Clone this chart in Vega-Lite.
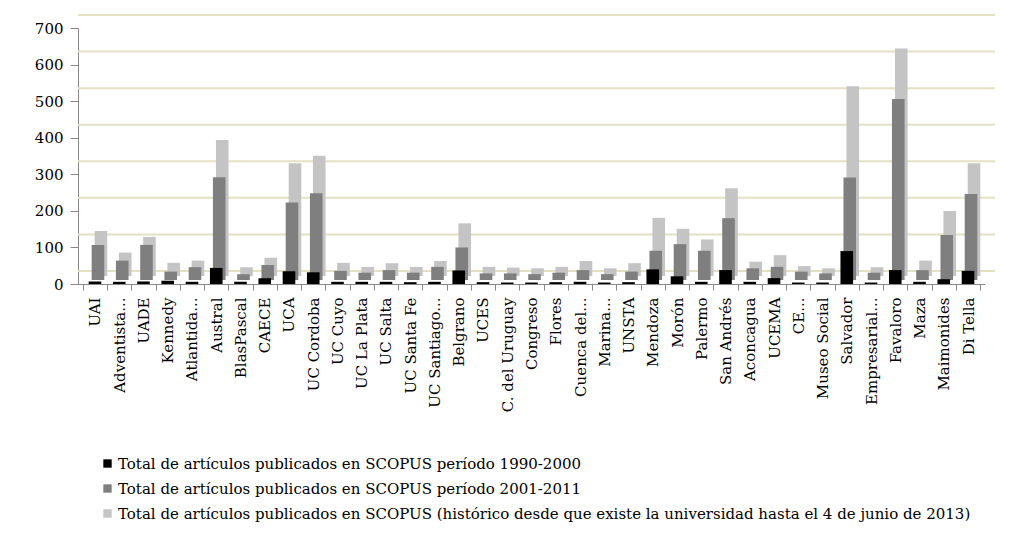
{
  "$schema": "https://vega.github.io/schema/vega-lite/v6.json",
  "width": 907,
  "height": 256,
  "autosize": {"type": "none"},
  "padding": {"left": 78, "top": 28, "right": 46, "bottom": 251},
  "background": "white",
  "config": {"view": {"stroke": null}, "font": "DejaVu Serif"},
  "datasets": {
    "grid": [{"g": 0}, {"g": 100}, {"g": 200}, {"g": 300}, {"g": 400}, {"g": 500}, {"g": 600}, {"g": 700}],
    "pubs": [
      {"u": "UAI", "s": "1990-2000", "v": 7}, {"u": "UAI", "s": "2001-2011", "v": 96}, {"u": "UAI", "s": "histórico", "v": 123},
      {"u": "Adventista...", "s": "1990-2000", "v": 6}, {"u": "Adventista...", "s": "2001-2011", "v": 53}, {"u": "Adventista...", "s": "histórico", "v": 64},
      {"u": "UADE", "s": "1990-2000", "v": 7}, {"u": "UADE", "s": "2001-2011", "v": 96}, {"u": "UADE", "s": "histórico", "v": 107},
      {"u": "Kennedy", "s": "1990-2000", "v": 9}, {"u": "Kennedy", "s": "2001-2011", "v": 23}, {"u": "Kennedy", "s": "histórico", "v": 36},
      {"u": "Atlantida...", "s": "1990-2000", "v": 6}, {"u": "Atlantida...", "s": "2001-2011", "v": 35}, {"u": "Atlantida...", "s": "histórico", "v": 42},
      {"u": "Austral", "s": "1990-2000", "v": 44}, {"u": "Austral", "s": "2001-2011", "v": 281}, {"u": "Austral", "s": "histórico", "v": 372},
      {"u": "BlasPascal", "s": "1990-2000", "v": 6}, {"u": "BlasPascal", "s": "2001-2011", "v": 16}, {"u": "BlasPascal", "s": "histórico", "v": 24},
      {"u": "CAECE", "s": "1990-2000", "v": 16}, {"u": "CAECE", "s": "2001-2011", "v": 41}, {"u": "CAECE", "s": "histórico", "v": 50},
      {"u": "UCA", "s": "1990-2000", "v": 35}, {"u": "UCA", "s": "2001-2011", "v": 212}, {"u": "UCA", "s": "histórico", "v": 308},
      {"u": "UC Cordoba", "s": "1990-2000", "v": 32}, {"u": "UC Cordoba", "s": "2001-2011", "v": 237}, {"u": "UC Cordoba", "s": "histórico", "v": 329},
      {"u": "UC Cuyo", "s": "1990-2000", "v": 6}, {"u": "UC Cuyo", "s": "2001-2011", "v": 25}, {"u": "UC Cuyo", "s": "histórico", "v": 36},
      {"u": "UC La Plata", "s": "1990-2000", "v": 6}, {"u": "UC La Plata", "s": "2001-2011", "v": 20}, {"u": "UC La Plata", "s": "histórico", "v": 25},
      {"u": "UC Salta", "s": "1990-2000", "v": 6}, {"u": "UC Salta", "s": "2001-2011", "v": 27}, {"u": "UC Salta", "s": "histórico", "v": 35},
      {"u": "UC Santa Fe", "s": "1990-2000", "v": 5}, {"u": "UC Santa Fe", "s": "2001-2011", "v": 20}, {"u": "UC Santa Fe", "s": "histórico", "v": 25},
      {"u": "UC Santiago...", "s": "1990-2000", "v": 6}, {"u": "UC Santiago...", "s": "2001-2011", "v": 36}, {"u": "UC Santiago...", "s": "histórico", "v": 41},
      {"u": "Belgrano", "s": "1990-2000", "v": 37}, {"u": "Belgrano", "s": "2001-2011", "v": 89}, {"u": "Belgrano", "s": "histórico", "v": 144},
      {"u": "UCES", "s": "1990-2000", "v": 5}, {"u": "UCES", "s": "2001-2011", "v": 18}, {"u": "UCES", "s": "histórico", "v": 25},
      {"u": "C. del Uruguay", "s": "1990-2000", "v": 4}, {"u": "C. del Uruguay", "s": "2001-2011", "v": 18}, {"u": "C. del Uruguay", "s": "histórico", "v": 23},
      {"u": "Congreso", "s": "1990-2000", "v": 4}, {"u": "Congreso", "s": "2001-2011", "v": 16}, {"u": "Congreso", "s": "histórico", "v": 21},
      {"u": "Flores", "s": "1990-2000", "v": 5}, {"u": "Flores", "s": "2001-2011", "v": 20}, {"u": "Flores", "s": "histórico", "v": 25},
      {"u": "Cuenca del...", "s": "1990-2000", "v": 6}, {"u": "Cuenca del...", "s": "2001-2011", "v": 27}, {"u": "Cuenca del...", "s": "histórico", "v": 41},
      {"u": "Marina...", "s": "1990-2000", "v": 4}, {"u": "Marina...", "s": "2001-2011", "v": 16}, {"u": "Marina...", "s": "histórico", "v": 21},
      {"u": "UNSTA", "s": "1990-2000", "v": 5}, {"u": "UNSTA", "s": "2001-2011", "v": 23}, {"u": "UNSTA", "s": "histórico", "v": 35},
      {"u": "Mendoza", "s": "1990-2000", "v": 40}, {"u": "Mendoza", "s": "2001-2011", "v": 80}, {"u": "Mendoza", "s": "histórico", "v": 159},
      {"u": "Morón", "s": "1990-2000", "v": 21}, {"u": "Morón", "s": "2001-2011", "v": 98}, {"u": "Morón", "s": "histórico", "v": 129},
      {"u": "Palermo", "s": "1990-2000", "v": 6}, {"u": "Palermo", "s": "2001-2011", "v": 80}, {"u": "Palermo", "s": "histórico", "v": 100},
      {"u": "San Andrés", "s": "1990-2000", "v": 38}, {"u": "San Andrés", "s": "2001-2011", "v": 169}, {"u": "San Andrés", "s": "histórico", "v": 240},
      {"u": "Aconcagua", "s": "1990-2000", "v": 6}, {"u": "Aconcagua", "s": "2001-2011", "v": 32}, {"u": "Aconcagua", "s": "histórico", "v": 39},
      {"u": "UCEMA", "s": "1990-2000", "v": 16}, {"u": "UCEMA", "s": "2001-2011", "v": 36}, {"u": "UCEMA", "s": "histórico", "v": 57},
      {"u": "CE...", "s": "1990-2000", "v": 4}, {"u": "CE...", "s": "2001-2011", "v": 23}, {"u": "CE...", "s": "histórico", "v": 27},
      {"u": "Museo Social", "s": "1990-2000", "v": 4}, {"u": "Museo Social", "s": "2001-2011", "v": 18}, {"u": "Museo Social", "s": "histórico", "v": 21},
      {"u": "Salvador", "s": "1990-2000", "v": 90}, {"u": "Salvador", "s": "2001-2011", "v": 280}, {"u": "Salvador", "s": "histórico", "v": 519},
      {"u": "Empresarial...", "s": "1990-2000", "v": 4}, {"u": "Empresarial...", "s": "2001-2011", "v": 20}, {"u": "Empresarial...", "s": "histórico", "v": 24},
      {"u": "Favaloro", "s": "1990-2000", "v": 38}, {"u": "Favaloro", "s": "2001-2011", "v": 495}, {"u": "Favaloro", "s": "histórico", "v": 622},
      {"u": "Maza", "s": "1990-2000", "v": 6}, {"u": "Maza", "s": "2001-2011", "v": 27}, {"u": "Maza", "s": "histórico", "v": 42},
      {"u": "Maimonides", "s": "1990-2000", "v": 13}, {"u": "Maimonides", "s": "2001-2011", "v": 123}, {"u": "Maimonides", "s": "histórico", "v": 178},
      {"u": "Di Tella", "s": "1990-2000", "v": 36}, {"u": "Di Tella", "s": "2001-2011", "v": 235}, {"u": "Di Tella", "s": "histórico", "v": 308}
    ]
  },
  "layer": [
    {
      "data": {"name": "grid"},
      "mark": {"type": "rule", "color": "#e4e0c4", "strokeWidth": 2, "yOffset": -13, "xOffset": 10, "x2Offset": 4},
      "encoding": {
        "y": {
          "field": "g", "type": "quantitative", "title": null,
          "scale": {"domain": [0, 700]},
          "axis": {"values": [0, 100, 200, 300, 400, 500, 600, 700], "grid": false, "tickSize": 8, "tickColor": "#888888", "domainColor": "#888888", "labelFontSize": 15, "labelPadding": 7, "labelColor": "#000000", "labelFont": "DejaVu Serif"}
        }
      }
    },
    {
      "data": {"name": "pubs"},
      "encoding": {
        "x": {
          "field": "u", "type": "nominal", "sort": null, "title": null,
          "scale": {"paddingInner": 0, "paddingOuter": 0.2},
          "axis": {"labelAngle": -90, "tickBand": "extent", "tickSize": 6, "tickColor": "#888888", "domainColor": "#888888", "labelFontSize": 15, "labelPadding": 7, "labelColor": "#000000", "grid": false, "labelFont": "DejaVu Serif"}
        },
        "y": {
          "field": "v", "type": "quantitative", "title": null,
          "scale": {"domain": [0, 700]},
          "axis": {"values": [0, 100, 200, 300, 400, 500, 600, 700], "grid": false, "tickSize": 8, "tickColor": "#888888", "domainColor": "#888888", "labelFontSize": 15, "labelPadding": 7, "labelColor": "#000000", "labelFont": "DejaVu Serif"}
        },
        "color": {
          "field": "s", "type": "nominal",
          "scale": {"domain": ["1990-2000", "2001-2011", "histórico"], "range": ["#000000", "#7f7f7f", "#c4c4c4"]},
          "legend": {
            "orient": "none", "legendX": 22, "legendY": 428, "title": null, "symbolType": "square", "symbolSize": 70, "symbolStrokeWidth": 0,
            "labelFontSize": 15, "labelLimit": 1200, "rowPadding": 9, "labelOffset": 3, "labelColor": "#000000", "labelFont": "DejaVu Serif",
            "labelExpr": "datum.label == '1990-2000' ? 'Total de artículos publicados en SCOPUS  período 1990-2000' : datum.label == '2001-2011' ? 'Total de artículos publicados en SCOPUS  período 2001-2011' : 'Total de artículos publicados en SCOPUS (histórico desde que existe la universidad hasta el 4 de junio de 2013)'"
          }
        }
      },
      "layer": [
        {"transform": [{"filter": "datum.s == 'histórico'"}], "mark": {"type": "bar", "width": {"band": 0.52}, "xOffset": 6, "x2Offset": 6, "yOffset": -8, "y2Offset": -8}},
        {"transform": [{"filter": "datum.s == '2001-2011'"}], "mark": {"type": "bar", "width": {"band": 0.52}, "xOffset": 3, "x2Offset": 3, "yOffset": -4, "y2Offset": -4}},
        {"transform": [{"filter": "datum.s == '1990-2000'"}], "mark": {"type": "bar", "width": {"band": 0.52}}}
      ]
    }
  ]
}
